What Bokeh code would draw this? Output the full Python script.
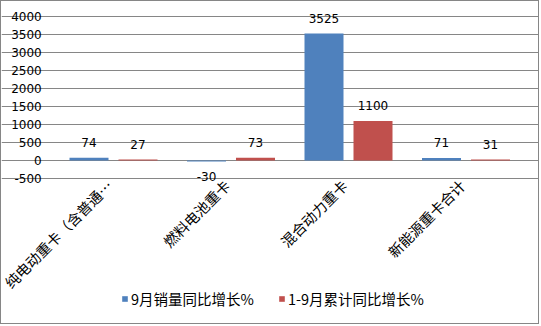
import math
from bokeh.plotting import figure
from bokeh.models import (ColumnDataSource, Range1d, FixedTicker, Grid,
                          LabelSet, Legend, LegendItem)
from bokeh.core.properties import value
from bokeh.transform import dodge
from bokeh.embed import file_html
from bokeh.resources import INLINE

categories = ["纯电动重卡（含普通…", "燃料电池重卡", "混合动力重卡", "新能源重卡合计"]
series_names = ["9月销量同比增长%", "1-9月累计同比增长%"]
sep_growth = [74, -30, 3525, 71]
ytd_growth = [27, 73, 1100, 31]
y_ticks = [-500, 0, 500, 1000, 1500, 2000, 2500, 3000, 3500, 4000]

BLUE = "#4F81BD"
RED = "#C0504D"
GRID = "#868686"
NUM_FONT = "DejaVu Sans"
CJK_FONT = "Noto Sans CJK SC"

W, H = 539, 324
CAT_PX = 117.5          # pixels per category slot
PLOT_LEFT_PX = 53.25    # left edge of plotting area
Y_PX = 0.036            # pixels per unit
ZERO_PX = 159           # canvas y of the zero line

x_start = -PLOT_LEFT_PX / CAT_PX
x_end = x_start + W / CAT_PX
y_end = ZERO_PX / Y_PX
y_start = -(H - ZERO_PX) / Y_PX

n = len(categories)
xs = [i + 0.5 for i in range(n)]

src = ColumnDataSource(dict(
    x=xs,
    cats=categories,
    base=[y_ticks[0]] * n,
    v1=sep_growth,
    v2=ytd_growth,
    t1=[str(v) for v in sep_growth],
    t2=[str(v) for v in ytd_growth],
    o1=[15 if v >= 0 else -15 for v in sep_growth],
    o2=[15 if v >= 0 else -15 for v in ytd_growth],
))
tick_src = ColumnDataSource(dict(y=y_ticks, x=[0] * len(y_ticks),
                                 t=[str(t) for t in y_ticks]))

p = figure(width=W, height=H, output_backend="svg", toolbar_location=None,
           x_axis_type=None, y_axis_type=None,
           x_range=Range1d(x_start, x_end), y_range=Range1d(y_start, y_end),
           min_border=0)
p.styles = {"border": "1px solid #868686"}
p.outline_line_color = None
p.background_fill_color = "white"
p.border_fill_color = "white"

grid = Grid(dimension=1, ticker=FixedTicker(ticks=y_ticks), bounds=(0, n),
            grid_line_color=GRID, grid_line_width=1)
p.add_layout(grid)

off = 0.2085
bw = 0.332
r1 = p.vbar(x=dodge("x", -off), top="v1", bottom=0, width=bw,
            source=src, fill_color=BLUE, line_color=None)
r2 = p.vbar(x=dodge("x", off), top="v2", bottom=0, width=bw,
            source=src, fill_color=RED, line_color=None)

# data labels
for xo, col, tcol, ocol in [(-off, "v1", "t1", "o1"), (off, "v2", "t2", "o2")]:
    p.add_layout(LabelSet(x=dodge("x", xo), y=col, text=tcol, y_offset=ocol,
                          source=src, text_align="center", text_baseline="middle",
                          text_font=value(NUM_FONT), text_font_size=value("12px"),
                          text_color=value("black")))

# y tick labels
p.add_layout(LabelSet(x="x", y="y", text="t", source=tick_src, x_offset=-13,
                      text_align="right", text_baseline="middle",
                      text_font=value(NUM_FONT), text_font_size=value("12px"),
                      text_color=value("black")))

# category labels, rotated 45 degrees
p.add_layout(LabelSet(x="x", y="base", text="cats", source=src, x_offset=-4, y_offset=-4,
                      angle=math.pi / 4, text_align="right", text_baseline="middle",
                      text_font=value(CJK_FONT), text_font_size=value("14.5px"),
                      text_color=value("black")))

legend = Legend(items=[LegendItem(label=series_names[0], renderers=[r1]),
                       LegendItem(label=series_names[1], renderers=[r2])],
                location=(120, 16), orientation="horizontal",
                glyph_width=7, glyph_height=7, label_standoff=3, spacing=24,
                padding=0, margin=0, label_height=14, label_text_baseline="middle",
                label_text_font=CJK_FONT, label_text_font_size="14.5px",
                label_text_color="black",
                border_line_color=None, background_fill_alpha=0)
p.add_layout(legend, "center")

open("out.html", "w").write(file_html(p, INLINE))
